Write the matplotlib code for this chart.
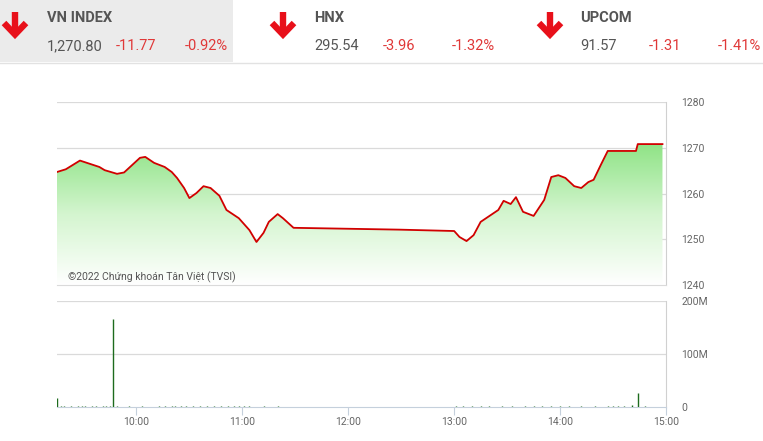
import matplotlib
matplotlib.use("Agg")
import matplotlib.pyplot as plt
import numpy as np
from matplotlib import font_manager
from matplotlib.colors import LinearSegmentedColormap
from matplotlib.lines import Line2D
from matplotlib.patches import Rectangle, Polygon

# ---------------- data ----------------
price_times = ["9:15", "9:20", "9:28", "9:39", "9:42", "9:49", "9:53", "10:02", "10:05",
               "10:10", "10:16", "10:20", "10:23", "10:27", "10:30", "10:34", "10:38",
               "10:42", "10:47", "10:51", "10:58", "11:04", "11:08", "11:12", "11:15",
               "11:20", "11:23", "11:29", "12:29", "13:00", "13:03", "13:07", "13:11",
               "13:15", "13:20", "13:25", "13:28", "13:32", "13:35", "13:39", "13:45",
               "13:51", "13:55", "13:59", "14:03", "14:08", "14:12", "14:16", "14:19",
               "14:23", "14:27", "14:43", "14:44", "14:58"]
price_values = [1264.7, 1265.3, 1267.2, 1265.8, 1265.1, 1264.3, 1264.6, 1267.8, 1268.0,
                1266.7, 1265.8, 1264.7, 1263.4, 1261.2, 1259.0, 1260.1, 1261.6,
                1261.2, 1259.5, 1256.4, 1254.6, 1252.0, 1249.4, 1251.4, 1253.8,
                1255.5, 1254.6, 1252.5, 1252.1, 1251.8, 1250.5, 1249.6, 1250.9,
                1253.8, 1255.1, 1256.4, 1258.4, 1257.7, 1259.2, 1256.0, 1255.1,
                1258.6, 1263.6, 1264.0, 1263.4, 1261.6, 1261.2, 1262.5, 1263.0,
                1266.2, 1269.3, 1269.3, 1270.8, 1270.8]

vol_times = ["9:15", "9:17", "9:19", "9:21", "9:23", "9:25", "9:27", "9:29", "9:31", "9:33",
             "9:35", "9:37", "9:39", "9:41", "9:43", "9:45", "9:47", "9:49", "9:56", "10:03",
             "10:13", "10:16", "10:20", "10:22", "10:25", "10:28", "10:32", "10:36", "10:40",
             "10:44", "10:48", "10:52", "10:55", "10:58", "11:01", "11:04", "11:08", "11:12",
             "11:16", "11:20", "11:24", "11:28", "13:01", "13:05", "13:10", "13:15", "13:20",
             "13:27", "13:33", "13:40", "13:45", "13:50", "13:55", "14:00", "14:05", "14:12",
             "14:20", "14:27", "14:30", "14:33", "14:36", "14:41", "14:44", "14:48"]
vol_values = [17, 1.0, 1.2, 0.8, 1.0, 0.9, 1.1, 1.0, 1.3, 0.8,
              1.0, 1.2, 0.9, 1.0, 1.1, 1.4, 166, 1.5, 1.0, 1.2,
              1.0, 1.4, 2.0, 1.8, 1.5, 1.2, 1.6, 1.0, 1.3,
              1.2, 1.1, 1.4, 1.0, 1.2, 1.0, 1.1, 0.9, 1.0,
              0.8, 1.0, 0.8, 0.7, 2.5, 1.0, 1.2, 1.0, 1.1,
              1.0, 1.2, 1.0, 1.3, 1.0, 1.5, 1.2, 1.0, 1.1,
              1.0, 1.5, 1.3, 1.2, 1.0, 3.0, 26, 1.0]

x_tick_times = ["10:00", "11:00", "12:00", "13:00", "14:00", "15:00"]
price_ticks = [1240, 1250, 1260, 1270, 1280]
vol_ticks = [0, 100, 200]
vol_tick_labels = ["0", "100M", "200M"]

index_names = ["VN INDEX", "HNX", "UPCOM"]
index_values = ["1,270.80", "295.54", "91.57"]
index_changes = ["-11.77", "-3.96", "-1.31"]
index_pcts = ["-0.92%", "-1.32%", "-1.41%"]
watermark = "©2022 Chứng khoán Tân Việt (TVSI)"

# ---------------- helpers ----------------
def tmin(s):
    h, m = s.split(":")
    return int(h) * 60 + int(m)

avail = {f.name for f in font_manager.fontManager.ttflist}
narrow = "Liberation Sans Narrow" if "Liberation Sans Narrow" in avail else "Roboto"
plt.rcParams['font.family'] = ['Roboto', 'DejaVu Sans']

W, H = 763, 441
fig = plt.figure(figsize=(W / 100, H / 100), dpi=100)
fig.patch.set_facecolor("white")

def fx(x):
    return x / W

def fy(y):
    return 1 - y / H

GRID = "#dadada"
TICKC = "#666666"
RED = "#e8101a"

# ---------------- header ----------------
fig.patches.append(Rectangle((0, fy(62)), fx(233), 62 / H, transform=fig.transFigure,
                             facecolor="#ebebeb", edgecolor="none", zorder=0))
fig.lines.append(Line2D([0, 1], [fy(62.5), fy(62.5)], transform=fig.transFigure,
                        color="#e2e2e2", lw=1))

arrow_x = [15, 283, 550]
text_x = [47, 314, 580]
for i in range(3):
    cx = arrow_x[i]
    fig.lines.append(Line2D([fx(cx), fx(cx)], [fy(12), fy(34)], transform=fig.transFigure,
                            color=RED, lw=4.6, solid_capstyle="butt"))
    fig.lines.append(Line2D([fx(cx - 11), fx(cx), fx(cx + 11)], [fy(23), fy(34.5), fy(23)],
                            transform=fig.transFigure, color=RED, lw=4.6,
                            solid_joinstyle="miter", solid_capstyle="butt"))
    tx = text_x[i]
    fig.text(fx(tx), fy(22), index_names[i], fontsize=10.5, fontweight="bold",
             family=[narrow, 'DejaVu Sans'], color="#555555", va="baseline", ha="left")
    fig.text(fx(tx), fy(50), index_values[i], fontsize=10.5, family=[narrow, 'DejaVu Sans'],
             color="#555555", va="baseline", ha="left")
    fig.text(fx(tx + 69), fy(50), index_changes[i], fontsize=10.5,
             family=[narrow, 'DejaVu Sans'], color="#e03838", va="baseline", ha="left")
    fig.text(fx(tx + 138), fy(50), index_pcts[i], fontsize=10.5,
             family=[narrow, 'DejaVu Sans'], color="#e03838", va="baseline", ha="left")

# ---------------- price axes ----------------
t0, t1 = tmin("9:15"), tmin("15:00")
pt = np.array([tmin(s) for s in price_times], dtype=float)
pv = np.array(price_values)

ax = fig.add_axes([fx(57), fy(285), 609 / W, 183 / H])
ax.set_xlim(t0, t1)
ax.set_ylim(1240, 1280)
for s in ["top", "left"]:
    ax.spines[s].set_visible(False)
ax.spines["right"].set_color("#d0d0d0")
ax.spines["bottom"].set_color(GRID)
ax.set_xticks([])
ax.yaxis.tick_right()
ax.set_yticks(price_ticks)
ax.tick_params(axis="y", length=0, pad=11, labelsize=7.5, labelcolor=TICKC)
for v in price_ticks[1:]:
    ax.axhline(v, color=GRID, lw=0.9, zorder=0.5)

cmap = LinearSegmentedColormap.from_list("g", ["#ffffff", "#d4f5cf", "#8ee385"])
grad = np.linspace(0, 1, 256).reshape(-1, 1)
im = ax.imshow(grad, extent=[t0, t1, 1240, 1271], aspect="auto", cmap=cmap,
               origin="lower", zorder=1, interpolation="bicubic")
poly_xy = np.vstack([np.column_stack([pt, pv]), [[pt[-1], 1240], [pt[0], 1240]]])
clip = Polygon(poly_xy, closed=True, transform=ax.transData, facecolor="none", edgecolor="none")
ax.add_patch(clip)
im.set_clip_path(clip)
ax.plot(pt, pv, color="#d10000", lw=1.3, zorder=3)

fig.text(fx(68), fy(280), watermark, fontsize=7.5, color="#555555", va="baseline", ha="left")

# ---------------- volume axes ----------------
vt = np.array([tmin(s) for s in vol_times], dtype=float)
vv = np.array(vol_values)
av = fig.add_axes([fx(57), fy(407), 609 / W, 106 / H])
av.set_xlim(t0, t1)
av.set_ylim(0, 200)
for s in ["top", "left"]:
    av.spines[s].set_visible(False)
av.spines["right"].set_color("#d0d0d0")
av.spines["bottom"].set_color("#c5d0dc")
av.axhline(100, color=GRID, lw=0.9, zorder=0.5)
av.axhline(200, color=GRID, lw=0.9, zorder=0.5)
av.vlines(vt, 0, vv, color="#1d6b1d", lw=1.0, zorder=3)
av.set_xticks([tmin(s) for s in x_tick_times])
av.set_xticklabels(x_tick_times)
av.tick_params(axis="x", length=6, width=0.8, color="#c5d0dc", pad=1.5,
               labelsize=7.5, labelcolor=TICKC)
av.yaxis.tick_right()
av.set_yticks(vol_ticks)
av.set_yticklabels(vol_tick_labels)
av.tick_params(axis="y", length=0, pad=11, labelsize=7.5, labelcolor=TICKC)

fig.savefig("out.png", dpi=100, facecolor="white")
